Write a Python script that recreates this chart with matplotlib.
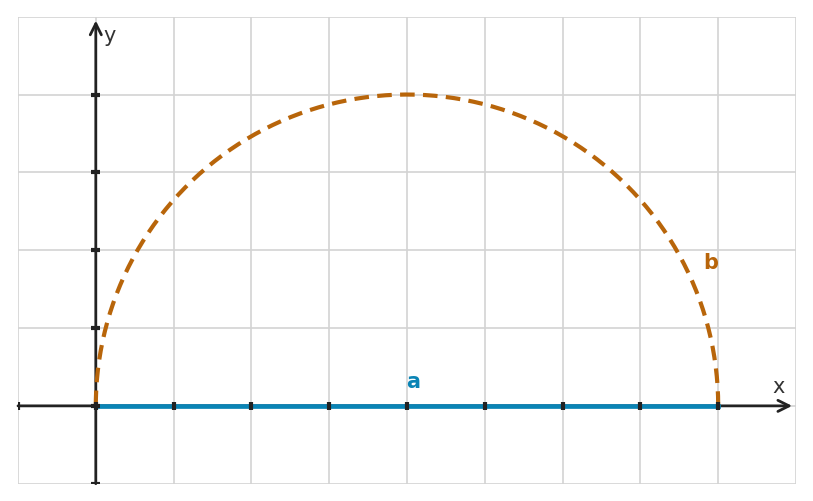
import numpy as np
import matplotlib
matplotlib.use("Agg")
import matplotlib.pyplot as plt

# grid range
x_range = [-1, 9]
y_range = [-1, 5]

# segment a and semicircle b
seg_a_x = [0, 8]
seg_a_y = [0, 0]
center = (4, 0)
radius = 4

labels = ["a", "b"]
label_pos = [(4.08, 0.32), (7.9, 1.85)]
colors = ["#0a84b5", "#b8650a"]

fig = plt.figure(figsize=(8.13, 5.02), dpi=100)
ax = fig.add_axes([18 / 813, 17.3 / 502, 778 / 813, 467 / 502])
ax.set_xlim(*x_range)
ax.set_ylim(*y_range)

for gx in range(x_range[0], x_range[1] + 1):
    ax.axvline(gx, color="#d3d3d3", lw=1.2, zorder=0)
for gy in range(y_range[0], y_range[1] + 1):
    ax.axhline(gy, color="#d3d3d3", lw=1.2, zorder=0)

for s in ax.spines.values():
    s.set_visible(False)
ax.set_xticks([])
ax.set_yticks([])

axis_col = "#222222"
ax.annotate("", xy=(8.95, 0), xytext=(-1, 0),
            arrowprops=dict(arrowstyle="->", color=axis_col, lw=2,
                            mutation_scale=20, shrinkA=0, shrinkB=0), zorder=2)
ax.annotate("", xy=(0, 4.95), xytext=(0, -1),
            arrowprops=dict(arrowstyle="->", color=axis_col, lw=2,
                            mutation_scale=20, shrinkA=0, shrinkB=0), zorder=2)

# tick marks on axes
for tx in range(-1, 9):
    ax.plot([tx, tx], [-0.05, 0.05], color=axis_col, lw=3, zorder=5,
            solid_capstyle="butt")
for ty in range(-1, 5):
    ax.plot([-0.06, 0.06], [ty, ty], color=axis_col, lw=3, zorder=5,
            solid_capstyle="butt")

ax.text(8.78, 0.26, "x", fontsize=15, color="#333333", ha="center", va="center")
ax.text(0.18, 4.76, "y", fontsize=15, color="#333333", ha="center", va="center")

ax.plot(seg_a_x, seg_a_y, color=colors[0], lw=3.4, zorder=4)

t = np.linspace(0, np.pi, 300)
ax.plot(center[0] + radius * np.cos(t), center[1] + radius * np.sin(t),
        color=colors[1], lw=3, ls=(0, (3.5, 2)), zorder=3)

for lab, (lx, ly), c in zip(labels, label_pos, colors):
    ax.text(lx, ly, lab, fontsize=15, fontweight="bold", color=c,
            ha="center", va="center")

fig.savefig("out.png", dpi=100)
